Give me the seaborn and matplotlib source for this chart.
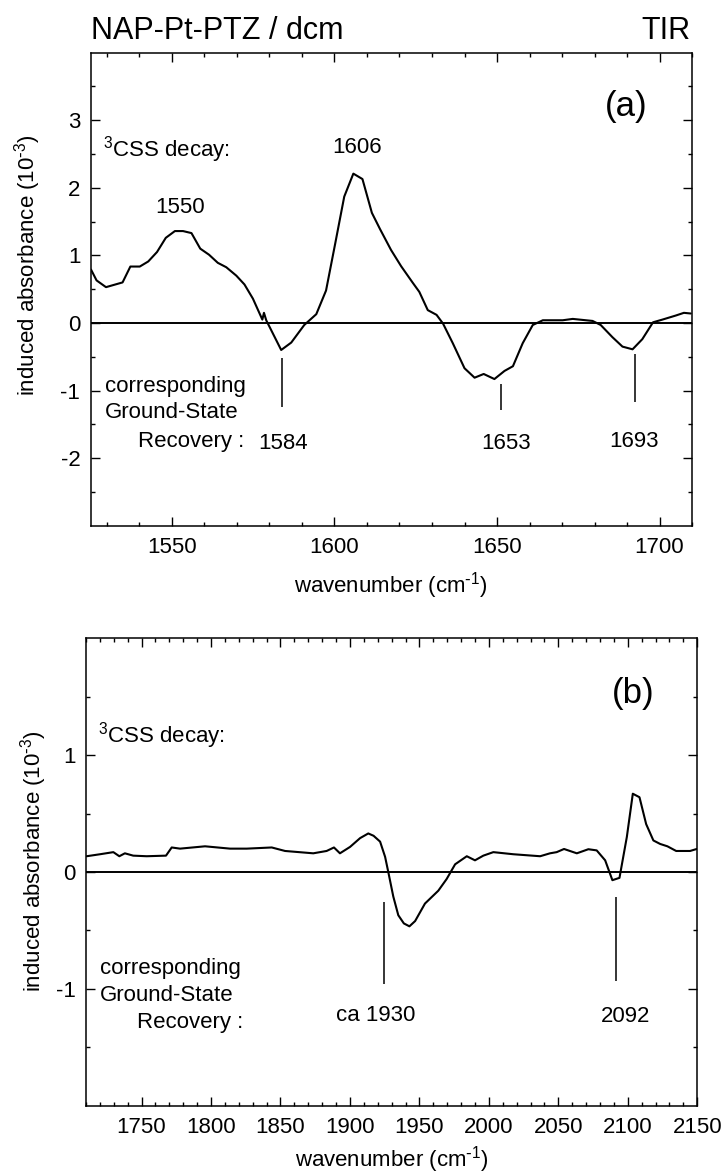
import numpy as np
import pandas as pd
import matplotlib
matplotlib.use("Agg")
import matplotlib.pyplot as plt
import seaborn as sns

# ---------------- data ----------------
wn_a = [1525.1, 1526.8, 1529.7, 1534.8, 1537.2, 1540.1, 1542.7, 1545.4, 1548.1, 1550.9,
        1553.4, 1556.0, 1558.7, 1561.4, 1564.1, 1566.7, 1569.8, 1572.3, 1574.9, 1577.8,
        1578.3, 1579.0, 1583.6, 1586.7, 1590.7, 1594.4, 1597.4, 1600.2, 1603.0, 1605.8,
        1608.6, 1611.5, 1614.0, 1617.4, 1620.5, 1624.0, 1626.1, 1628.7, 1631.4, 1633.4,
        1636.4, 1640.0, 1643.1, 1645.9, 1649.2, 1652.3, 1654.9, 1657.9, 1661.0, 1664.1,
        1670.2, 1673.3, 1679.4, 1681.9, 1685.5, 1688.6, 1691.7, 1694.7, 1698.0, 1700.9,
        1705.0, 1707.5, 1709.6]
abs_a = [0.79, 0.63, 0.53, 0.60, 0.835, 0.835, 0.91, 1.05, 1.26, 1.36,
         1.36, 1.33, 1.10, 1.01, 0.89, 0.825, 0.70, 0.57, 0.36, 0.05,
         0.15, 0.04, -0.40, -0.29, -0.03, 0.13, 0.48, 1.17, 1.87, 2.21,
         2.13, 1.63, 1.39, 1.08, 0.84, 0.60, 0.46, 0.19, 0.12, -0.01,
         -0.30, -0.67, -0.81, -0.755, -0.83, -0.71, -0.64, -0.30, -0.03, 0.04,
         0.04, 0.06, 0.03, -0.03, -0.21, -0.35, -0.39, -0.24, 0.01, 0.05,
         0.11, 0.15, 0.14]

wn_b = [1710.5, 1720.1, 1729.7, 1734.0, 1738.0, 1744.0, 1753.7, 1767.6, 1771.7, 1777.7,
        1795.7, 1813.7, 1825.7, 1843.7, 1853.3, 1873.6, 1883.2, 1888.5, 1892.8, 1900.1,
        1907.3, 1913.2, 1917.0, 1921.7, 1925.3, 1927.6, 1931.2, 1934.8, 1938.8, 1942.8,
        1946.9, 1954.0, 1963.6, 1969.6, 1975.7, 1984.1, 1990.0, 1996.0, 2003.2, 2017.6,
        2036.9, 2044.0, 2048.8, 2054.1, 2063.3, 2071.6, 2077.6, 2083.7, 2088.9, 2094.0,
        2099.3, 2103.6, 2108.4, 2113.2, 2118.4, 2123.3, 2128.5, 2134.8, 2144.8, 2149.6]
abs_b = [0.135, 0.152, 0.17, 0.135, 0.16, 0.14, 0.135, 0.14, 0.21, 0.20,
         0.22, 0.20, 0.20, 0.21, 0.18, 0.16, 0.18, 0.21, 0.16, 0.215,
         0.29, 0.33, 0.31, 0.26, 0.13, 0.0, -0.21, -0.37, -0.44, -0.465,
         -0.42, -0.27, -0.16, -0.06, 0.066, 0.135, 0.10, 0.14, 0.17, 0.152,
         0.135, 0.16, 0.17, 0.197, 0.16, 0.195, 0.185, 0.10, -0.07, -0.05,
         0.30, 0.67, 0.64, 0.41, 0.27, 0.24, 0.22, 0.18, 0.18, 0.197]

# peak labels (3CSS decay) and ground-state recovery markers
peaks_a = [1550, 1606]
peak_label_pos_a = [(1552.4, 1.71), (1607.0, 2.59)]
gsr_a = ["1584", "1653", "1693"]
gsr_line_x_a = [1583.9, 1651.3, 1692.4]
gsr_line_y_a = [(-0.52, -1.24), (-0.90, -1.29), (-0.46, -1.17)]
gsr_label_pos_a = [(1584.3, -1.79), (1652.8, -1.79), (1692.2, -1.75)]

gsr_b = ["ca 1930", "2092"]
gsr_line_x_b = [1924.5, 2091.8]
gsr_line_y_b = [(-0.26, -0.96), (-0.21, -0.93)]
gsr_label_pos_b = [(1918.8, -1.23), (2098.5, -1.24)]

# ---------------- style ----------------
sns.set_theme(style="white")
plt.rcParams["font.family"] = ["Liberation Sans", "DejaVu Sans"]
plt.rcParams["mathtext.default"] = "regular"
plt.rcParams["axes.unicode_minus"] = False
plt.rcParams["text.color"] = "black"
plt.rcParams["axes.labelcolor"] = "black"
plt.rcParams["xtick.color"] = "black"
plt.rcParams["ytick.color"] = "black"

FS = 16
XLABEL = "wavenumber (cm$^{\\text{-}1}$)"
YLABEL = "induced absorbance (10$^{\\text{-}3}$)"

fig = plt.figure(figsize=(7.28, 11.76), dpi=100)
ax1 = fig.add_axes([0.1246, 0.5530, 0.8260, 0.4022])
ax2 = fig.add_axes([0.1181, 0.0598, 0.8397, 0.3974])

df_a = pd.DataFrame({"wn": wn_a, "A": abs_a})
df_b = pd.DataFrame({"wn": wn_b, "A": abs_b})
sns.lineplot(data=df_a, x="wn", y="A", ax=ax1, color="black", lw=1.5,
             sort=False, estimator=None)
sns.lineplot(data=df_b, x="wn", y="A", ax=ax2, color="black", lw=1.5,
             sort=False, estimator=None)

for ax in (ax1, ax2):
    ax.axhline(0, color="black", lw=1.4, zorder=1)
    for s in ax.spines.values():
        s.set_visible(True)
        s.set_color("black")
        s.set_linewidth(1.1)
    ax.tick_params(which="both", direction="in", top=True, right=True,
                   bottom=True, left=True, colors="black", labelcolor="black",
                   labelsize=FS, width=1.0)
    ax.tick_params(which="major", length=6.5)
    ax.tick_params(which="minor", length=3)
    ax.tick_params(axis="x", which="both", pad=8)
    ax.tick_params(axis="y", which="both", pad=7.5)
    ax.set_ylabel(YLABEL, fontsize=FS, color="black")

ax1.set_xlabel(XLABEL, fontsize=FS, labelpad=9, color="black")
ax2.set_xlabel(XLABEL, fontsize=FS, labelpad=4.5, color="black")

# panel a axes
ax1.set_xlim(1525, 1710)
ax1.set_ylim(-3, 4)
ax1.set_xticks([1550, 1600, 1650, 1700])
ax1.set_xticks(np.arange(1530, 1711, 10), minor=True)
ax1.set_yticks([-2, -1, 0, 1, 2, 3])
ax1.set_yticks(np.arange(-2.5, 4, 0.5), minor=True)
ax1.yaxis.set_label_coords(-0.080, 0.552)

# panel b axes
ax2.set_xlim(1710, 2150)
ax2.set_ylim(-2, 2)
ax2.set_xticks(np.arange(1750, 2151, 50))
ax2.set_xticks(np.arange(1710, 2151, 10), minor=True)
ax2.set_yticks([-1, 0, 1])
ax2.set_yticks(np.arange(-1.5, 2, 0.5), minor=True)
ax2.yaxis.set_label_coords(-0.060, 0.523)

# ---------------- annotations ----------------
fig.text(90.7 / 728, 1 - 39 / 1176, "NAP-Pt-PTZ / dcm", fontsize=22,
         ha="left", va="baseline")
fig.text(690 / 728, 1 - 39 / 1176, "TIR", fontsize=22, ha="right", va="baseline")

ax1.text(1689.8, 3.21, "(a)", fontsize=25, ha="center", va="center")
ax2.text(2104, 1.53, "(b)", fontsize=25, ha="center", va="center")

ax1.text(1528.8, 2.57, "$^3$CSS decay:", fontsize=FS, ha="left", va="center")
ax2.text(1718.9, 1.17, "$^3$CSS decay:", fontsize=FS, ha="left", va="center")

for p, (x, y) in zip(peaks_a, peak_label_pos_a):
    ax1.text(x, y, str(p), fontsize=FS, ha="center", va="center")

# "corresponding Ground-State Recovery :"
ax1.text(1529.4, -0.94, "corresponding", fontsize=FS, ha="left", va="center")
ax1.text(1529.4, -1.33, "Ground-State", fontsize=FS, ha="left", va="center")
ax1.text(1572.3, -1.75, "Recovery :", fontsize=FS, ha="right", va="center")
ax2.text(1720.0, -0.83, "corresponding", fontsize=FS, ha="left", va="center")
ax2.text(1720.0, -1.06, "Ground-State", fontsize=FS, ha="left", va="center")
ax2.text(1823.2, -1.285, "Recovery :", fontsize=FS, ha="right", va="center")

for lab, lx, (y0, y1), (tx, ty) in zip(gsr_a, gsr_line_x_a, gsr_line_y_a, gsr_label_pos_a):
    ax1.vlines(lx, y1, y0, color="black", lw=1.1)
    ax1.text(tx, ty, lab, fontsize=FS, ha="center", va="center")

for lab, lx, (y0, y1), (tx, ty) in zip(gsr_b, gsr_line_x_b, gsr_line_y_b, gsr_label_pos_b):
    ax2.vlines(lx, y1, y0, color="black", lw=1.1)
    ax2.text(tx, ty, lab, fontsize=FS, ha="center", va="center")

fig.savefig("out.png", dpi=100, facecolor="white")
